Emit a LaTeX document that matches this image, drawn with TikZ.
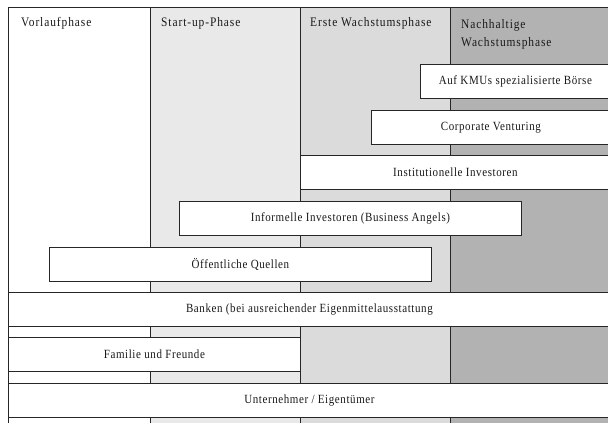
\documentclass[tikz,border=0pt]{standalone}
\usepackage{fontspec}
\setmainfont{Liberation Serif}
\newfontfamily\boxfont{Liberation Serif}[LetterSpace=4.7,FakeStretch=0.88]
\newfontfamily\headfont{Liberation Serif}[LetterSpace=7,FakeStretch=0.88]
\definecolor{colA}{HTML}{FFFFFF}
\definecolor{colB}{HTML}{E9E9E9}
\definecolor{colC}{HTML}{DBDBDB}
\definecolor{colD}{HTML}{B2B2B2}
\tikzset{
  fbox/.style={draw=black!85, line width=0.8pt, fill=white, anchor=north west,
    inner sep=0pt, minimum height=34pt, text=black!90, font=\boxfont\fontsize{12.5}{14}\selectfont},
  head/.style={anchor=base west, inner sep=0pt, align=left, text=black!90,
    font=\headfont\fontsize{13}{18.5}\selectfont},
  divider/.style={draw=black!85, line width=1pt}
}
\begin{document}
\begin{tikzpicture}[x=1pt,y=-1pt]
\useasboundingbox (0,0) rectangle (608,423);
\clip (0,0) rectangle (608,423);
% columns
\fill[colA] (8,7) rectangle (150,423);
\fill[colB] (150,7) rectangle (300,423);
\fill[colC] (300,7) rectangle (450,423);
\fill[colD] (450,7) rectangle (610,423);
\draw[divider] (8,7) -- (610,7);
\draw[divider] (8,7) -- (8,423);
\draw[divider] (150,7) -- (150,423);
\draw[divider] (300,7) -- (300,423);
\draw[divider] (450,7) -- (450,423);
% headers
\node[head] (h1) at (21,27) {Vorlaufphase};
\node[head] (h2) at (161,27) {Start-up-Phase};
\node[head] (h3) at (310,27) {Erste Wachstumsphase};
\node[head] (h4) at (461,46.7) {Nachhaltige\\Wachstumsphase};
% boxes
\node[fbox, minimum width=190pt] (kmu) at (420,64) {Auf KMUs spezialisierte Börse};
\node[fbox, minimum width=239pt] (cv) at (371,110) {Corporate Venturing};
\node[fbox, minimum width=310pt] (inst) at (300,155) {Institutionelle Investoren};
\node[fbox, minimum width=342pt] (info) at (179,201) {Informelle Investoren (Business Angels)};
\node[fbox, minimum width=382pt] (oeff) at (49,247) {Öffentliche Quellen};
\node[fbox, minimum width=602pt] (bank) at (8,292) {Banken (bei ausreichender Eigenmittelausstattung};
\node[fbox, minimum width=292pt] (fam) at (8,337) {Familie und Freunde};
\node[fbox, minimum width=602pt] (unt) at (8,383) {Unternehmer / Eigentümer};
\end{tikzpicture}
\end{document}
